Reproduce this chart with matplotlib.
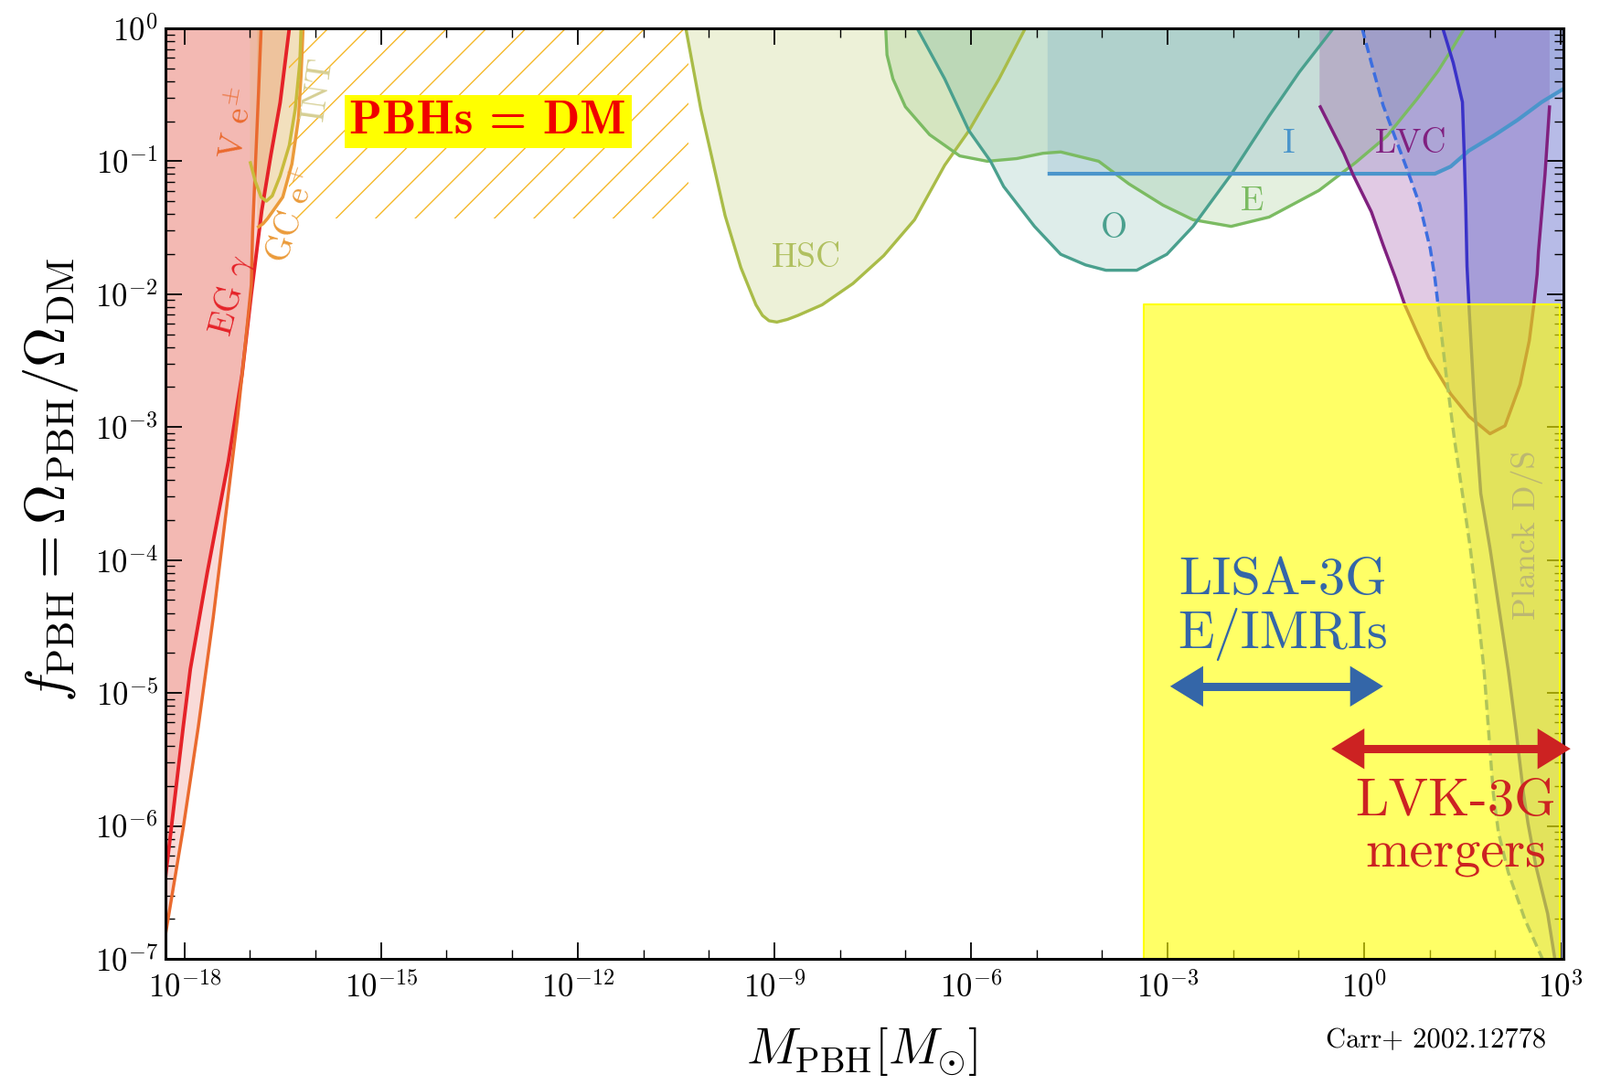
import numpy as np
import matplotlib
matplotlib.use("Agg")
import matplotlib.pyplot as plt
from matplotlib.patches import Rectangle
from matplotlib.ticker import FixedLocator, FixedFormatter, LogLocator, NullFormatter

plt.rcParams['font.family'] = 'cmr10'
plt.rcParams['mathtext.fontset'] = 'cm'
plt.rcParams['axes.unicode_minus'] = False
plt.rcParams['axes.formatter.use_mathtext'] = True

# constraint boundaries: log10(M/Msun), log10(f_PBH)
EG_M = [-18.29, -18.02, -17.91, -17.65, -17.33, -17.12, -16.98, -16.82, -16.68, -16.54, -16.40]
EG_F = [-6.39, -5.26, -4.82, -4.09, -3.26, -2.60, -2.00, -1.37, -0.95, -0.56, 0.00]
VE_M = [-18.29, -18.02, -17.79, -17.56, -17.33, -17.19, -17.07, -16.98, -16.96, -16.91, -16.87, -16.83]
VE_F = [-6.82, -6.02, -5.26, -4.43, -3.50, -2.93, -2.37, -1.93, -1.53, -0.95, -0.49, 0.00]
GC_M = [-16.89, -16.80, -16.73, -16.50, -16.36, -16.26, -16.22, -16.19]
GC_F = [-1.50, -1.47, -1.43, -1.27, -1.02, -0.68, -0.35, 0.00]
INT_M = [-17.00, -16.92, -16.83, -16.75, -16.66, -16.54, -16.40, -16.31, -16.24, -16.22]
INT_F = [-1.00, -1.15, -1.27, -1.30, -1.26, -1.11, -0.88, -0.61, -0.26, 0.00]
HSC_M = [-10.35, -10.12, -9.93, -9.75, -9.51, -9.28, -9.18, -9.08, -8.96, -8.80, -8.64, -8.27, -7.80, -7.33,
         -6.86, -6.40, -6.03, -5.57, -5.17]
HSC_F = [0.00, -0.61, -1.02, -1.41, -1.80, -2.08, -2.16, -2.20, -2.21, -2.19, -2.16, -2.08, -1.92, -1.71,
         -1.44, -1.03, -0.77, -0.38, 0.00]
E_M = [-7.30, -7.28, -7.19, -7.00, -6.63, -6.17, -5.75, -5.30, -4.90, -4.63, -4.05, -3.59, -3.07, -2.61, -2.03, -1.45,
       -0.69, -0.13, 0.35, 0.81, 1.13, 1.36, 1.53]
E_F = [0.00, -0.20, -0.38, -0.59, -0.80, -0.96, -1.00, -0.98, -0.94, -0.93, -1.00, -1.17, -1.33, -1.44, -1.49, -1.42,
       -1.22, -1.01, -0.81, -0.53, -0.32, -0.14, 0.00]
O_M = [-6.82, -6.40, -6.03, -5.70, -5.50, -5.03, -4.63, -4.25, -3.94, -3.47, -3.01, -2.61, -2.03, -1.45, -0.99, -0.47]
O_F = [0.00, -0.38, -0.77, -1.00, -1.19, -1.49, -1.70, -1.78, -1.82, -1.82, -1.70, -1.49, -1.10, -0.66, -0.33, 0.00]
I_M = [-4.83, 1.08, 1.32, 1.60, 1.97, 2.34, 2.71, 3.06]
I_F = [-1.094, -1.094, -1.04, -0.92, -0.81, -0.69, -0.555, -0.45]
LVC_M = [-0.68, -0.31, -0.17, 0.11, 0.29, 0.48, 0.62, 0.80, 0.99, 1.32, 1.60, 1.92, 2.15, 2.38, 2.52, 2.59, 2.64, 2.66, 2.76, 2.83]
LVC_F = [-0.58, -0.94, -1.10, -1.38, -1.63, -1.88, -2.08, -2.28, -2.48, -2.75, -2.92, -3.05, -2.99, -2.68, -2.35, -2.08,
         -1.85, -1.68, -1.10, -0.58]
PD_M = [-0.03, 0.11, 0.29, 0.48, 0.67, 0.85, 1.01, 1.08, 1.13, 1.25, 1.38, 1.50, 1.62, 1.73, 1.83, 1.90, 1.97, 2.05, 2.20, 2.45, 2.72]
PD_F = [0.00, -0.26, -0.58, -0.83, -1.08, -1.33, -1.66, -1.88, -2.09, -2.60, -3.10, -3.50, -3.91, -4.37, -4.83, -5.29,
        -5.75, -6.05, -6.35, -6.70, -7.00]
PS_M = [1.20, 1.36, 1.50, 1.53, 1.55, 1.57, 1.60, 1.68, 1.78, 1.92, 2.06, 2.20, 2.32, 2.43, 2.50, 2.62, 2.80, 2.91]
PS_F = [0.00, -0.26, -0.555, -0.99, -1.33, -1.79, -2.09, -2.80, -3.50, -3.91, -4.37, -4.83, -5.29, -5.75, -5.98, -6.30,
        -6.66, -7.00]

# future-detector windows and the "PBHs = DM" hatched window
YELLOW_M = [-3.36, 2.98]
YELLOW_F = [-7.0, -2.08]
HATCH_M = [-16.41, -10.31]
HATCH_F = [-1.43, 0.0]
LISA_M = [-2.96, 0.29]
LISA_F = -4.95
LVK_M = [-0.50, 3.15]
LVK_F = -5.42

XLIM = (-18.29, 3.04)
YLIM = (-7.0, 0.0)
XMAJ = [-18, -15, -12, -9, -6, -3, 0, 3]
YMAJ = [-7, -6, -5, -4, -3, -2, -1, 0]

TOP = 0.6  # closes regions above the top of the frame


def p10(a):
    return np.power(10.0, np.asarray(a, dtype=float))


def region(ax, m, f, extra_m, extra_f, fc, alpha, lc, lw=2.4, ls='-'):
    pm = list(m) + list(extra_m)
    pf = list(f) + list(extra_f)
    ax.fill(p10(pm), p10(pf), color=fc, alpha=alpha, lw=0, zorder=1)
    ax.plot(p10(m), p10(f), color=lc, lw=lw, ls=ls, zorder=2, solid_capstyle='butt', solid_joinstyle='round')


def double_arrow(ax, m, f, color, head_dec=0.42):
    # shaft as a thick line, heads as filled triangles (no outline, so the tips stay sharp)
    ax.plot(p10([m[0] + head_dec, m[1] - head_dec]), p10([f, f]), color=color, lw=6.5,
            solid_capstyle='butt', zorder=5, clip_on=False)
    ax.annotate('', xy=(p10(m[1]), p10(f)), xytext=(p10(m[0]), p10(f)),
                arrowprops=dict(arrowstyle='<|-|>,head_length=0.52,head_width=0.32', mutation_scale=50,
                                facecolor=color, edgecolor='none', lw=0, shrinkA=0, shrinkB=0, clip_on=False),
                annotation_clip=False, zorder=5)


fig = plt.figure(figsize=(17.5, 11.87), dpi=100)
ax = fig.add_axes([0.1034, 0.1163, 0.8737, 0.8576])
ax.set_xscale('log')
ax.set_yscale('log')
ax.set_xlim(p10(XLIM[0]), p10(XLIM[1]))
ax.set_ylim(p10(YLIM[0]), p10(YLIM[1]))

# evaporation constraints (left)
region(ax, EG_M, EG_F, [EG_M[-1], -19.5, -19.5], [TOP, TOP, EG_F[0]], '#e64d40', 0.25, '#e52228', lw=2.8)
region(ax, VE_M, VE_F, [VE_M[-1], -19.5, -19.5], [TOP, TOP, VE_F[0]], '#e66659', 0.23, '#ea6a2e', lw=2.5)
region(ax, GC_M, GC_F, [GC_M[-1], GC_M[0]], [TOP, TOP], '#e89a3c', 0.24, '#eb9b3a', lw=2.5)
region(ax, INT_M, INT_F, [INT_M[-1], INT_M[0]], [TOP, TOP], '#ccbf4c', 0.14, '#c8bb3c', lw=2.5)

# microlensing
region(ax, HSC_M, HSC_F, [], [], '#a8ba40', 0.20, '#a9bc48')
region(ax, E_M, E_F, [], [], '#78b860', 0.20, '#7bbb62')
region(ax, O_M, O_F, [], [], '#4d9e8f', 0.18, '#4aa08e')
region(ax, I_M, I_F, [I_M[-1], I_M[0]], [TOP, TOP], '#4d8cbf', 0.19, '#4b95cb', lw=3.0)

# GW / CMB
region(ax, LVC_M, LVC_F, [LVC_M[-1], LVC_M[0]], [TOP, TOP], '#8a2e96', 0.25, '#80207f', lw=2.5)
region(ax, PD_M, PD_F, [3.5, 3.5], [YLIM[0] - 0.5, TOP], '#6169cc', 0.26, '#3c6ee0', lw=2.5, ls=(0, (3.2, 1.6)))
region(ax, PS_M, PS_F, [3.5, 3.5], [YLIM[0] - 0.5, TOP], '#6169cc', 0.26, '#3a32c8', lw=2.5)

# "PBHs = DM" window: thin orange diagonal lines, clipped to a box
clip = Rectangle((p10(HATCH_M[0]), p10(HATCH_F[0])), p10(HATCH_M[1]) - p10(HATCH_M[0]),
                 p10(HATCH_F[1]) - p10(HATCH_F[0]), transform=ax.transData, fill=False, lw=0)
ax.add_patch(clip)
pos = ax.get_position()
w_px = pos.width * fig.get_figwidth() * fig.dpi / (XLIM[1] - XLIM[0])
h_px = pos.height * fig.get_figheight() * fig.dpi / (YLIM[1] - YLIM[0])
slope = w_px / h_px
xx = np.linspace(HATCH_M[0] - 1, HATCH_M[1] + 1, 50)
for c in np.arange(-9.766 - 0.604 * 14, -9.766 + 0.604 * 4, 0.604):
    ln, = ax.plot(p10(xx), p10(slope * (xx - c)), color='#f5b82a', lw=1.0, zorder=1.5)
    ln.set_clip_path(clip)

# future sensitivity window (semi-transparent yellow over everything)
ax.fill_between(p10(YELLOW_M), p10(YELLOW_F[0]), p10(YELLOW_F[1]),
                facecolor=(1, 1, 0, 0.6), edgecolor=(1, 1, 0, 1), lw=1.5, zorder=2.6)

double_arrow(ax, LISA_M, LISA_F, '#3466a8')
double_arrow(ax, LVK_M, LVK_F, '#cc2222')


# labels
def lab(x, y, s, color, size=27, rot=0, z=5, **kw):
    ax.text(p10(x), p10(y), s, color=color, fontsize=size, rotation=rot, ha='center', va='center',
            zorder=z, rotation_mode='anchor', **kw)


lab(-17.28, -2.01, r'EG $\gamma$', '#e52228', rot=75)
lab(-17.18, -0.72, r'V e$^{\pm}$', '#ea6a2e', rot=80)
lab(-16.33, -1.41, r'GC e$^{+}$', '#eb9b3a', rot=72)
lab(-15.96, -0.46, 'INT', '#d6cf94', rot=82)
lab(-8.51, -1.73, 'HSC', '#b0c060')
lab(-3.82, -1.51, 'O', '#4aa08e')
lab(-1.71, -1.30, 'E', '#7bbb62')
lab(-1.15, -0.87, 'I', '#4b95cb')
lab(0.72, -0.87, 'LVC', '#80207f')
lab(2.49, -3.81, 'Planck D/S', '#bcb772', size=26, rot=90)
ax.text(p10(-13.37), p10(-0.70), 'PBHs = DM', family='cmb10', color='#f00000', fontsize=38,
        ha='center', va='center', zorder=6,
        bbox=dict(facecolor='#ffff00', edgecolor='none', pad=4))
ax.text(p10(-1.24), p10(-4.26), 'LISA-3G', color='#3466a8', fontsize=42, ha='center', va='baseline', zorder=6)
ax.text(p10(-1.24), p10(-4.66), 'E/IMRIs', color='#3466a8', fontsize=42, ha='center', va='baseline', zorder=6)
ax.text(p10(1.40), p10(-5.92), 'LVK-3G', color='#cc2222', fontsize=42, ha='center', va='baseline', zorder=6)
ax.text(p10(1.40), p10(-6.31), 'mergers', color='#cc2222', fontsize=42, ha='center', va='baseline', zorder=6)

# axes cosmetics
ax.xaxis.set_major_locator(FixedLocator(p10(XMAJ)))
ax.xaxis.set_major_formatter(FixedFormatter([r'$10^{%d}$' % v for v in XMAJ]))
ax.xaxis.set_minor_locator(FixedLocator(p10(np.arange(-18, 4))))
ax.xaxis.set_minor_formatter(NullFormatter())
ax.yaxis.set_major_locator(FixedLocator(p10(YMAJ)))
ax.yaxis.set_major_formatter(FixedFormatter([r'$10^{%d}$' % v for v in YMAJ]))
ax.yaxis.set_minor_locator(LogLocator(base=10, subs=np.arange(2, 10)))
ax.yaxis.set_minor_formatter(NullFormatter())
ax.tick_params(which='both', direction='in', top=True, right=True, labelsize=25, colors='black')
ax.tick_params(which='major', length=13, width=1.3)
ax.tick_params(which='minor', length=7, width=1.0)
ax.tick_params(axis='x', which='major', pad=10)
ax.tick_params(axis='y', which='major', pad=6)
for sp in ax.spines.values():
    sp.set_linewidth(2.2)
    sp.set_zorder(3)

ax.set_ylabel(r'$f_{\rm PBH} = \Omega_{\rm PBH}/\Omega_{\rm DM}$', fontsize=44, va='center')
ax.yaxis.set_label_coords(-0.082, 0.515)
ax.set_xlabel(r'$M_{\rm PBH}\left[M_{\odot}\right]$', fontsize=40, va='center')
ax.xaxis.set_label_coords(0.498, -0.099)
ax.text(0.909, -0.0874, 'Carr+ 2002.12778', transform=ax.transAxes, fontsize=22, ha='center', va='center')

fig.savefig('out.png', dpi=100)
